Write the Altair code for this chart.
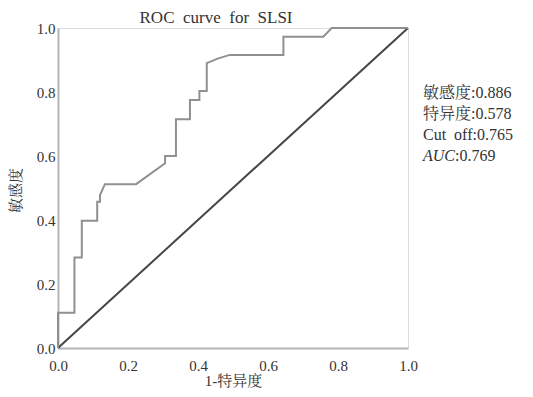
import altair as alt
import pandas as pd

# ROC curve points (1-specificity, sensitivity)
fpr = [0.0, 0.0, 0.047, 0.047, 0.068, 0.068, 0.112, 0.112, 0.12, 0.12, 0.134, 0.223,
       0.306, 0.306, 0.337, 0.337, 0.377, 0.377, 0.404, 0.404, 0.425, 0.425, 0.458,
       0.491, 0.644, 0.644, 0.758, 0.782, 1.0]
tpr = [0.0, 0.11, 0.11, 0.283, 0.283, 0.398, 0.398, 0.457, 0.457, 0.478, 0.512, 0.512,
       0.577, 0.60, 0.60, 0.715, 0.715, 0.775, 0.775, 0.803, 0.803, 0.89, 0.905,
       0.916, 0.916, 0.973, 0.973, 1.0, 1.0]
ref_x = [0.0, 1.0]
ref_y = [0.0, 1.0]
ticks = [0.0, 0.2, 0.4, 0.6, 0.8, 1.0]

title_text = "ROC\u00a0\u00a0curve\u00a0\u00a0for\u00a0\u00a0SLSI"
notes = ["敏感度:0.886", "特异度:0.578", "Cut\u00a0\u00a0off:0.765"]
auc_label = "AUC"
auc_value = ":0.769"

SERIF = "'Liberation Serif', 'Times New Roman', 'Noto Serif CJK SC', 'Noto Sans CJK SC', serif"

roc = pd.DataFrame({"x": fpr, "y": tpr, "o": list(range(len(fpr)))})
diag = pd.DataFrame({"x": ref_x, "y": ref_y})

xs = alt.Scale(domain=[0, 1], nice=False)
ys = alt.Scale(domain=[0, 1], nice=False)

xaxis = alt.Axis(values=ticks, format=".1f", title="1-特异度", grid=False, ticks=False,
                 labelFlush=False, labelPadding=10, domainColor="#b5b5b5", domainWidth=2,
                 labelColor="#333333", labelFont=SERIF, labelFontSize=15,
                 titleFont=SERIF, titleFontSize=15, titleFontWeight="normal",
                 titleColor="#333333", titleX=175, titleY=32, titleBaseline="middle")
yaxis = alt.Axis(values=ticks, format=".1f", title="敏感度", grid=False, ticks=False,
                 labelFlush=False, labelPadding=3, domainColor="#b5b5b5", domainWidth=2,
                 labelColor="#333333", labelFont=SERIF, labelFontSize=15,
                 titleFont=SERIF, titleFontSize=15, titleFontWeight="normal",
                 titleColor="#333333", titleX=-43, titleY=162, titleBaseline="middle")

diag_line = alt.Chart(diag).mark_line(color="#454545", strokeWidth=2).encode(
    x=alt.X("x:Q", scale=xs, axis=xaxis),
    y=alt.Y("y:Q", scale=ys, axis=yaxis),
)

roc_line = alt.Chart(roc).mark_line(color="#909090", strokeWidth=2).encode(
    x=alt.X("x:Q", scale=xs),
    y=alt.Y("y:Q", scale=ys),
    order="o:Q",
)

title_mark = alt.Chart(pd.DataFrame({"t": [title_text]})).mark_text(
    font=SERIF, fontSize=17, color="#333333", align="center", baseline="middle"
).encode(x=alt.value(158), y=alt.value(-10), text="t:N")

notes_df = pd.DataFrame({"t": notes, "yy": [65, 86, 107]})
notes_mark = alt.Chart(notes_df).mark_text(
    font=SERIF, fontSize=16, color="#333333", align="left", baseline="middle"
).encode(x=alt.value(365), y=alt.Y("yy:Q", scale=None), text="t:N")

auc_mark = alt.Chart(pd.DataFrame({"t": [auc_label]})).mark_text(
    font=SERIF, fontSize=16, fontStyle="italic", color="#333333", align="left",
    baseline="middle"
).encode(x=alt.value(365), y=alt.value(128), text="t:N")

auc_val_mark = alt.Chart(pd.DataFrame({"t": [auc_value]})).mark_text(
    font=SERIF, fontSize=16, color="#333333", align="left", baseline="middle"
).encode(x=alt.value(397), y=alt.value(128), text="t:N")

chart = alt.layer(diag_line, roc_line, title_mark, notes_mark, auc_mark, auc_val_mark).properties(
    width=350, height=320,
    autosize=alt.AutoSizeParams(type="none"),
    padding={"left": 50, "top": 20, "right": 117, "bottom": 41},
).configure_view(stroke=None).configure(background="white")

chart.save("out.html", embed_options={"renderer": "svg", "actions": False})
